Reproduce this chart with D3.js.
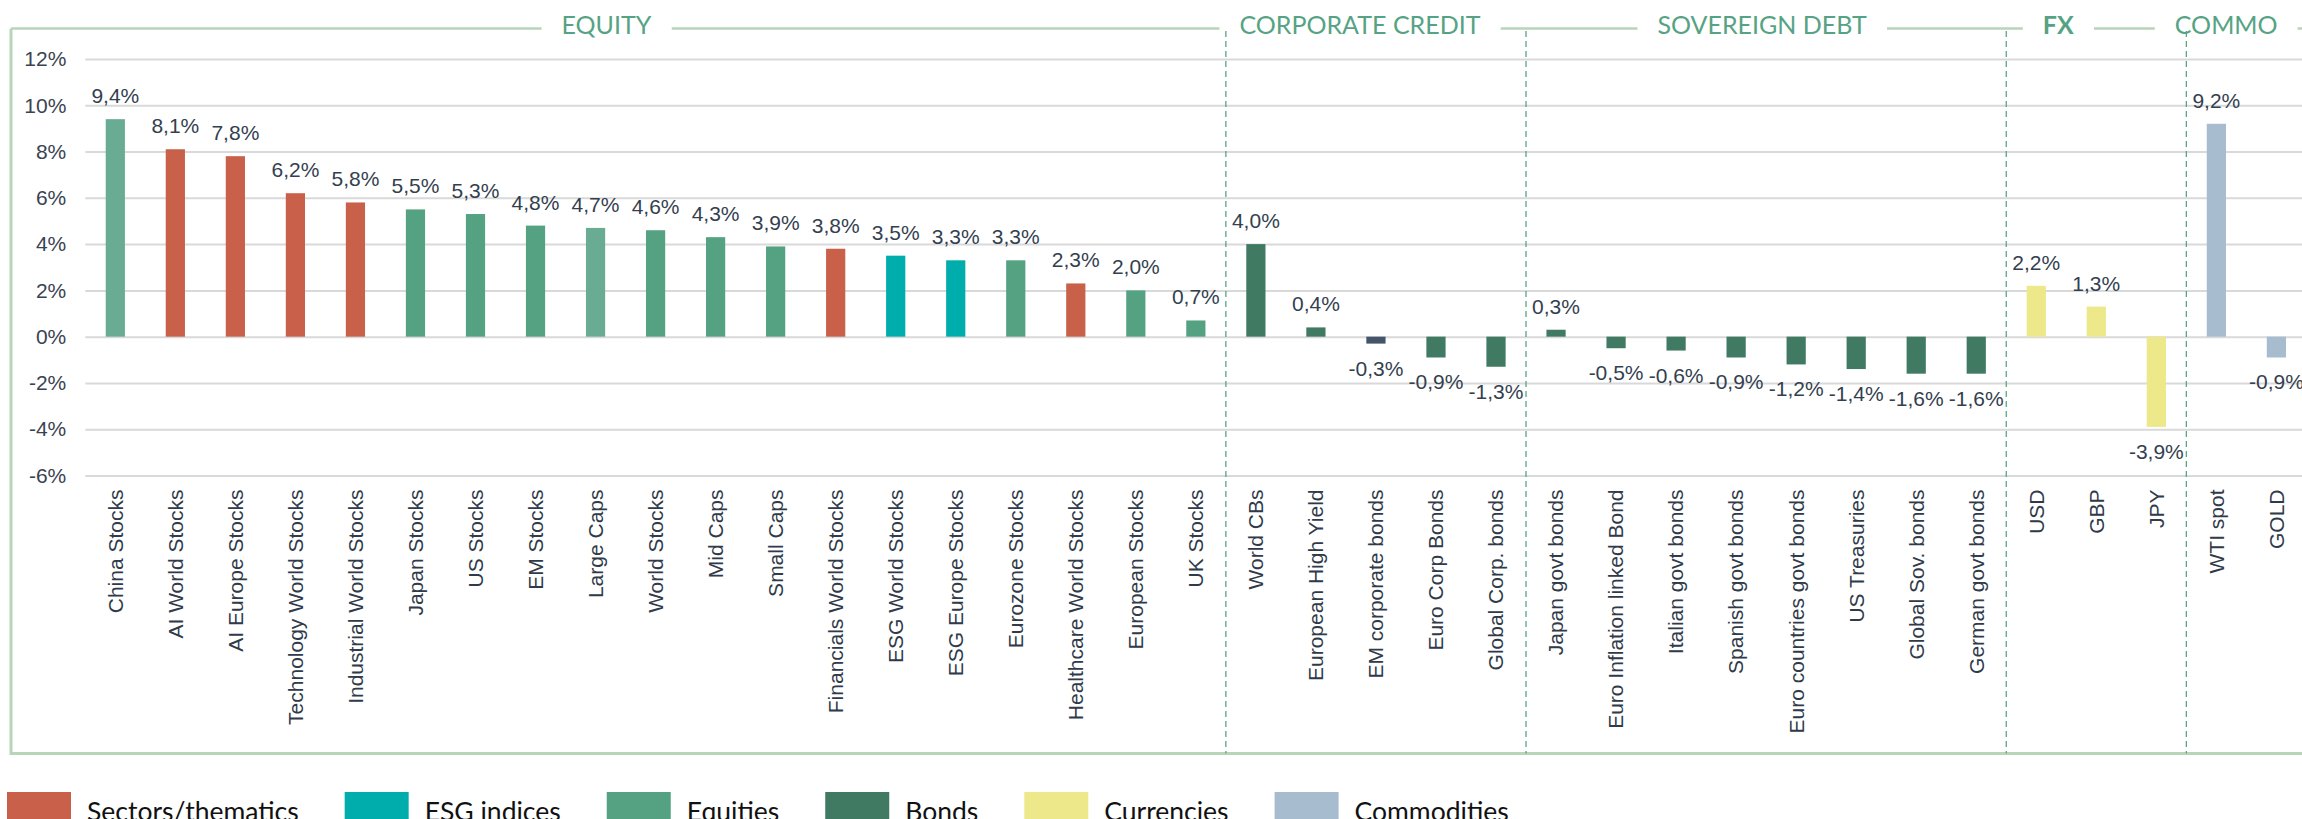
<!DOCTYPE html>
<html>
<head>
<meta charset="utf-8">
<title>Performance by asset class</title>
<script src="https://d3js.org/d3.v7.min.js"></script>
<style>
  body { margin: 0; background: #fff; }
  text { font-family: "Liberation Sans", Arial, sans-serif; }
</style>
</head>
<body>
<svg id="chart" width="2302" height="819"></svg>

<script>
// data
const categories = [
  "China Stocks", "AI World Stocks", "AI Europe Stocks", "Technology World Stocks",
  "Industrial World Stocks", "Japan Stocks", "US Stocks", "EM Stocks", "Large Caps",
  "World Stocks", "Mid Caps", "Small Caps", "Financials World Stocks", "ESG World Stocks",
  "ESG Europe Stocks", "Eurozone Stocks", "Healthcare World Stocks", "European Stocks", "UK Stocks",
  "World CBs", "European High Yield", "EM corporate bonds", "Euro Corp Bonds", "Global Corp. bonds",
  "Japan govt bonds", "Euro Inflation linked Bond", "Italian govt bonds", "Spanish govt bonds",
  "Euro countries govt bonds", "US Treasuries", "Global Sov. bonds", "German govt bonds",
  "USD", "GBP", "JPY",
  "WTI spot", "GOLD"
];
const values = [
  9.4, 8.1, 7.8, 6.2, 5.8, 5.5, 5.3, 4.8, 4.7, 4.6, 4.3, 3.9, 3.8, 3.5, 3.3, 3.3, 2.3, 2.0, 0.7,
  4.0, 0.4, -0.3, -0.9, -1.3,
  0.3, -0.5, -0.6, -0.9, -1.2, -1.4, -1.6, -1.6,
  2.2, 1.3, -3.9,
  9.2, -0.9
];
const groups = [
  "Equities (light)", "Sectors/thematics", "Sectors/thematics", "Sectors/thematics",
  "Sectors/thematics", "Equities", "Equities", "Equities", "Equities (light)",
  "Equities", "Equities", "Equities", "Sectors/thematics", "ESG indices",
  "ESG indices", "Equities", "Sectors/thematics", "Equities", "Equities",
  "Bonds", "Bonds", "Bonds (EM)", "Bonds", "Bonds",
  "Bonds", "Bonds", "Bonds", "Bonds", "Bonds", "Bonds", "Bonds", "Bonds",
  "Currencies", "Currencies", "Currencies",
  "Commodities", "Commodities"
];
const sections = ["EQUITY", "CORPORATE CREDIT", "SOVEREIGN DEBT", "FX", "COMMO"];
const sectionSizes = [19, 5, 8, 3, 2];
const yTicks = [-6, -4, -2, 0, 2, 4, 6, 8, 10, 12];
const legendItems = ["Sectors/thematics", "ESG indices", "Equities", "Bonds", "Currencies", "Commodities"];

const colors = {
  "Sectors/thematics": "#c8604a",
  "ESG indices": "#00adad",
  "Equities": "#55a283",
  "Equities (light)": "#6aac93",
  "Bonds": "#417a62",
  "Bonds (EM)": "#44546a",
  "Currencies": "#ede88a",
  "Commodities": "#a7bccf"
};

const W = 2302, H = 819;
const frameLeft = 11, frameTop = 28.5, frameBottom = 753.5;
const plotLeft = 85.3, step = 60.03;
const headerShift = [-12, -16, -4, -38, -18];

const svg = d3.select("#chart");
const fmt = d3.formatLocale({decimal: ",", thousands: ".", grouping: [3], currency: ["", "€"], minus: "-"}).format(".1f");

const x = d3.scaleBand()
  .domain(categories)
  .range([plotLeft, plotLeft + categories.length * step])
  .paddingInner(0.68)
  .paddingOuter(0.34);
const y = d3.scaleLinear().domain([-6, 12]).range([475.5, 59]);

const slotStart = i => x(categories[i]) - (x.step() - x.bandwidth()) / 2;

// gridlines + y labels
const yAxis = svg.append("g")
  .attr("transform", `translate(${plotLeft},0)`)
  .call(d3.axisLeft(y).tickValues(yTicks).tickSize(-(W - plotLeft)).tickPadding(19).tickFormat(d => d + "%"));
yAxis.select(".domain").remove();
yAxis.selectAll(".tick line").attr("stroke", "#d9d9d9").attr("stroke-width", 2);
yAxis.selectAll(".tick text").attr("font-size", 21).attr("fill", "#3a4352")
  .style("font-family", "'Liberation Sans', Arial, sans-serif");

// frame
const frameColor = "#b9d5b9";
svg.append("line").attr("x1", frameLeft).attr("x2", frameLeft).attr("y1", frameTop).attr("y2", frameBottom + 1.5)
  .attr("stroke", frameColor).attr("stroke-width", 3);
svg.append("line").attr("x1", frameLeft).attr("x2", W).attr("y1", frameBottom).attr("y2", frameBottom)
  .attr("stroke", frameColor).attr("stroke-width", 3);
svg.append("line").attr("x1", frameLeft).attr("x2", W).attr("y1", frameTop).attr("y2", frameTop)
  .attr("stroke", frameColor).attr("stroke-width", 2.5);

// section separators
let starts = [];
let acc = 0;
sectionSizes.forEach(n => { starts.push(acc); acc += n; });
svg.selectAll(".sep")
  .data(starts.slice(1))
  .join("line")
  .attr("class", "sep")
  .attr("x1", d => slotStart(d)).attr("x2", d => slotStart(d))
  .attr("y1", 31).attr("y2", frameBottom)
  .attr("stroke", "#5aa684").attr("stroke-width", 1.3).attr("stroke-dasharray", "6,4");

// section headers
sections.forEach((name, i) => {
  const a = i === 0 ? frameLeft : slotStart(starts[i]);
  const b = i === sections.length - 1 ? W : slotStart(starts[i + 1]);
  const cx = (a + b) / 2 + headerShift[i];
  const g = svg.append("g");
  const t = g.append("text")
    .attr("x", cx).attr("y", 33.5)
    .attr("text-anchor", "middle")
    .attr("font-size", 25)
    .attr("font-weight", name === "FX" ? 700 : 400)
    .attr("fill", "#56a384")
    .style("font-family", "Lato, 'Open Sans', sans-serif")
    .text(name);
  const bb = t.node().getBBox();
  g.insert("rect", "text")
    .attr("x", bb.x - 20).attr("y", 18).attr("width", bb.width + 40).attr("height", 13)
    .attr("fill", "#fff");
});

// bars
svg.selectAll(".bar")
  .data(values)
  .join("rect")
  .attr("class", "bar")
  .attr("x", (d, i) => x(categories[i]))
  .attr("width", x.bandwidth())
  .attr("y", d => y(Math.max(0, d)))
  .attr("height", d => Math.abs(y(d) - y(0)))
  .attr("fill", (d, i) => colors[groups[i]]);

// value labels
svg.selectAll(".val")
  .data(values)
  .join("text")
  .attr("class", "val")
  .attr("x", (d, i) => x(categories[i]) + x.bandwidth() / 2)
  .attr("y", d => d >= 0 ? y(d) - 16 : y(d) + 32)
  .attr("text-anchor", "middle")
  .attr("font-size", 21)
  .attr("fill", "#333f4f")
  .text(d => fmt(d) + "%");

// category labels
const xAxis = svg.append("g")
  .attr("transform", `translate(0,${y(-6)})`)
  .call(d3.axisBottom(x).tickSize(0));
xAxis.select(".domain").remove();
xAxis.selectAll(".tick text")
  .attr("transform", "rotate(-90)")
  .attr("x", -14).attr("y", 0).attr("dy", "0.35em")
  .attr("text-anchor", "end")
  .attr("font-size", 21)
  .attr("fill", "#2f3a4a")
  .style("font-family", "'Liberation Sans', Arial, sans-serif");

// legend
let lx = 7;
legendItems.forEach(name => {
  svg.append("rect").attr("x", lx).attr("y", 792).attr("width", 64).attr("height", 30)
    .attr("fill", colors[name]);
  const t = svg.append("text")
    .attr("x", lx + 80).attr("y", 821)
    .attr("font-size", 26.5)
    .attr("fill", "#111")
    .style("font-family", "Lato, 'Open Sans', sans-serif")
    .text(name);
  lx += 80 + t.node().getComputedTextLength() + 46;
});
</script>
</body>
</html>
